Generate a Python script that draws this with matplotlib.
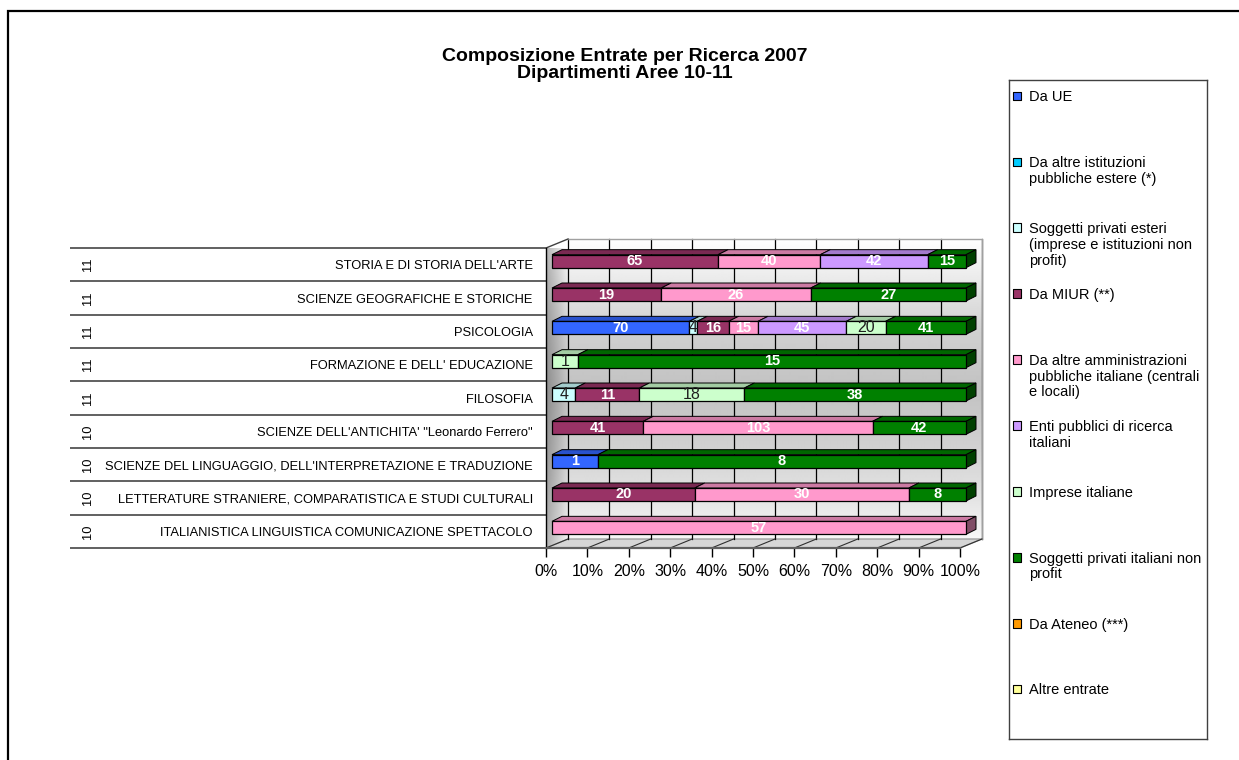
import matplotlib.pyplot as plt
import numpy as np
from matplotlib.patches import Polygon, Rectangle

plt.rcParams['font.family'] = ['Liberation Sans', 'DejaVu Sans']

# rows, top to bottom
categories = ["STORIA E DI STORIA DELL'ARTE", "SCIENZE GEOGRAFICHE E STORICHE", "PSICOLOGIA",
              "FORMAZIONE E DELL' EDUCAZIONE", "FILOSOFIA",
              "SCIENZE DELL'ANTICHITA' \"Leonardo Ferrero\"",
              "SCIENZE DEL LINGUAGGIO, DELL'INTERPRETAZIONE E TRADUZIONE",
              "LETTERATURE STRANIERE, COMPARATISTICA E STUDI CULTURALI",
              "ITALIANISTICA LINGUISTICA COMUNICAZIONE SPETTACOLO"]
areas = ['11', '11', '11', '11', '11', '10', '10', '10', '10']

series_names = ['Da UE', 'Da altre istituzioni\npubbliche estere (*)',
                'Soggetti privati esteri\n(imprese e istituzioni non\nprofit)',
                'Da MIUR (**)', 'Da altre amministrazioni\npubbliche italiane (centrali\ne locali)',
                'Enti pubblici di ricerca\nitaliani', 'Imprese italiane',
                'Soggetti privati italiani non\nprofit', 'Da Ateneo (***)', 'Altre entrate']
colors = ['#3366FF', '#00CCFF', '#CCFFFF', '#993366', '#FF99CC',
          '#CC99FF', '#CCFFCC', '#008000', '#FF9900', '#FFFF99']
dark_text = [False, False, True, False, False, False, True, False, False, False]

da_ue = [0, 0, 70, 0, 0, 0, 1, 0, 0]
altre_ist_estere = [0, 0, 0, 0, 0, 0, 0, 0, 0]
privati_esteri = [0, 0, 4, 0, 4, 0, 0, 0, 0]
miur = [65, 19, 16, 0, 11, 41, 0, 20, 0]
altre_amm = [40, 26, 15, 0, 0, 103, 0, 30, 57]
enti_ricerca = [42, 0, 45, 0, 0, 0, 0, 0, 0]
imprese = [0, 0, 20, 1, 18, 0, 0, 0, 0]
privati_italiani = [15, 27, 41, 15, 38, 42, 8, 8, 0]
ateneo = [0, 0, 0, 0, 0, 0, 0, 0, 0]
altre_entrate = [0, 0, 0, 0, 0, 0, 0, 0, 0]

data = np.array([da_ue, altre_ist_estere, privati_esteri, miur, altre_amm,
                 enti_ricerca, imprese, privati_italiani, ateneo, altre_entrate], dtype=float)
pct = data / data.sum(axis=0) * 100

W, H = 1239, 760
fig = plt.figure(figsize=(W / 100, H / 100), dpi=100)
fig.patch.set_facecolor('white')

# outer chart border (right/bottom run off the picture)
fig.add_artist(Rectangle((7.5 / W, -0.1), 1.2, 1 - 11 / H + 0.1, transform=fig.transFigure,
                         fill=False, edgecolor='black', lw=1.6))

ax = fig.add_axes([546 / W, (H - 548) / H, 414 / W, 300 / H])
n = len(categories)
ax.set_xlim(0, 100)
ax.set_ylim(n - 0.5, -0.5)

# pixel -> data helpers
px_x = 100 / 414
px_y = n / 300


def dx(p):
    return p * px_x


def dy(p):
    return p * px_y


# back wall with gradient
wx, wy = dx(22), dy(9)
t = np.linspace(0, 1, 300)
prof = np.interp(t, [0, 0.08, 0.3, 0.5, 0.7, 0.88, 1.0], [1.0, 0.95, 0.82, 0.76, 0.82, 0.9, 0.97])
wall = np.repeat(prof[:, None], 2, axis=1)
im = ax.imshow(wall, cmap='gray', vmin=0, vmax=1, aspect='auto', origin='upper',
               extent=(wx, 100 + wx, n - 0.5 - wy, -0.5 - wy), zorder=0, interpolation='bilinear')
im.set_clip_on(False)

# left side wall
side = Polygon([(0, -0.5), (wx, -0.5 - wy), (wx, n - 0.5 - wy), (0, n - 0.5)],
               closed=True, facecolor='none', edgecolor='none')
ax.add_patch(side)
hfac = np.linspace(0.72, 1.0, 50)
side_img = prof[:, None] * hfac[None, :]
im2 = ax.imshow(side_img, cmap='gray', vmin=0, vmax=1, aspect='auto', origin='upper',
                extent=(0, wx, n - 0.5, -0.5 - wy), zorder=0.5, interpolation='bilinear')
im2.set_clip_path(side)

# floor
floor = Polygon([(0, n - 0.5), (100, n - 0.5), (100 + wx, n - 0.5 - wy), (wx, n - 0.5 - wy)],
                closed=True, facecolor='#d6d6d6', edgecolor='#a0a0a0', lw=1, zorder=1, clip_on=False)
ax.add_patch(floor)

ticks = np.arange(0, 101, 10)
for x in ticks:
    ax.plot([x + wx, x + wx], [-0.5 - wy, n - 0.5 - wy], color='black', lw=0.9, zorder=1, clip_on=False)
    ax.plot([x, x + wx], [n - 0.5, n - 0.5 - wy], color='#303030', lw=0.8, zorder=1.2, clip_on=False)
# wall edges
ax.plot([wx, 100 + wx, 100 + wx], [-0.5 - wy, -0.5 - wy, n - 0.5 - wy], color='#a0a0a0', lw=1,
        zorder=1, clip_on=False)
ax.plot([0, wx], [-0.5, -0.5 - wy], color='#404040', lw=1, zorder=1.2, clip_on=False)

# table lines on the left
ax.hlines(np.arange(-0.5, n, 1), xmin=dx(70 - 546), xmax=0, colors='#606060', lw=1.4,
          zorder=2, clip_on=False)
for i, a in enumerate(areas):
    ax.text(dx(88 - 546), i, a, rotation=90, ha='center', va='center', fontsize=9.3, clip_on=False)

# 3D stacked bars
bx, by = dx(6), dy(3.5)
ddx, ddy = dx(10), dy(5)
bh = 0.39
ys = np.arange(n) - by


def shade(c, f):
    r, g, b = plt.matplotlib.colors.to_rgb(c)
    return (r * f, g * f, b * f)


left = np.zeros(n)
last_idx = [max(k for k in range(len(colors)) if data[k, i] > 0) for i in range(n)]
for k in range(len(colors)):
    w = pct[k]
    mask = data[k] > 0
    if mask.any():
        ax.barh(ys[mask], w[mask], left=left[mask] + bx, height=bh, color=colors[k],
                edgecolor='black', lw=0.9, zorder=4, clip_on=False)
    for i in np.where(mask)[0]:
        x0, x1 = left[i] + bx, left[i] + w[i] + bx
        yt, yb = ys[i] - bh / 2, ys[i] + bh / 2
        ax.add_patch(Polygon([(x0, yt), (x1, yt), (x1 + ddx, yt - ddy), (x0 + ddx, yt - ddy)],
                             closed=True, facecolor=shade(colors[k], 0.8), edgecolor='black',
                             lw=0.7, zorder=3.5, clip_on=False))
        if k == last_idx[i]:
            ax.add_patch(Polygon([(x1, yt), (x1 + ddx, yt - ddy), (x1 + ddx, yb - ddy), (x1, yb)],
                                 closed=True, facecolor=shade(colors[k], 0.5), edgecolor='black',
                                 lw=0.7, zorder=3.5, clip_on=False))
        if dark_text[k]:
            ax.text((x0 + x1) / 2, ys[i], f'{int(data[k, i])}', ha='center', va='center',
                    fontsize=11.5, color='#202020', zorder=6, clip_on=False)
        else:
            ax.text((x0 + x1) / 2, ys[i], f'{int(data[k, i])}', ha='center', va='center',
                    fontsize=10.5, fontweight='bold', color='white', zorder=6, clip_on=False)
    left += w

# axes
for s in ['top', 'right']:
    ax.spines[s].set_visible(False)
ax.spines['left'].set_color('black')
ax.spines['left'].set_linewidth(1)
ax.spines['bottom'].set_color('#606060')
ax.spines['bottom'].set_linewidth(1.6)
ax.spines['left'].set_zorder(2)
ax.set_xticks(ticks)
ax.set_xticklabels([f'{v}%' for v in ticks], fontsize=11.5)
ax.tick_params(axis='x', length=6.5, width=1, color='black', pad=5)
ax.set_yticks(np.arange(n))
ax.set_yticklabels(categories, fontsize=9.3)
ax.tick_params(axis='y', length=0, pad=9.5)
ax.set_facecolor('none')

# title
fig.text(625 / W, 1 - 65 / H, 'Composizione Entrate per Ricerca 2007\nDipartimenti Aree 10-11',
         ha='center', va='center', fontsize=14, fontweight='bold', linespacing=0.98)

# legend (Excel style, evenly spaced entries)
lax = fig.add_axes([1009 / W, (H - 739) / H, 198 / W, 659 / H])
nl = len(series_names)
lax.set_xlim(0, 1)
lax.set_ylim(nl, 0)
lax.set_xticks([])
lax.set_yticks([])
for s in lax.spines.values():
    s.set_color('#404040')
    s.set_linewidth(1)
ly = np.arange(nl) + 16 / 65.9
lax.scatter(np.full(nl, 8 / 198), ly, s=40, marker='s', c=colors, edgecolors='black', linewidths=0.8)
for k, name in enumerate(series_names):
    lax.text(20 / 198, ly[k] - 5.6 / 65.9, name, ha='left', va='top', fontsize=10.5, linespacing=1.15)

fig.savefig('out.png', dpi=100, facecolor='white')
